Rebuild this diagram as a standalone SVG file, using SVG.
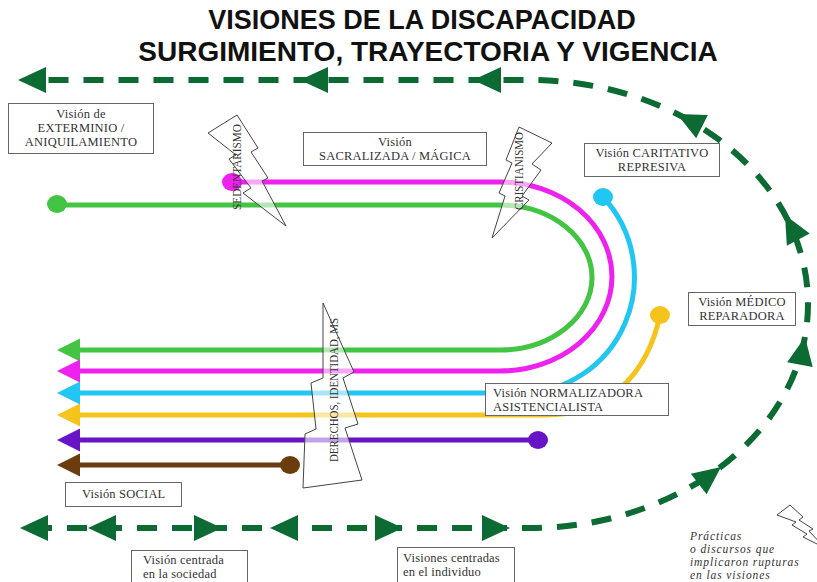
<svg xmlns="http://www.w3.org/2000/svg" width="817" height="582" viewBox="0 0 817 582">
<defs>
<style>
.box{fill:#fff;stroke:#666;stroke-width:1}
.lbl{font-family:"Liberation Serif","Times New Roman",serif;font-size:12.5px;letter-spacing:0.2px;fill:#333}
.mid{text-anchor:middle}
.title{font-family:"Liberation Sans",Arial,sans-serif;font-weight:bold;fill:#111;text-anchor:middle}
.flow{fill:none;stroke:#0b6b33;stroke-width:6;stroke-dasharray:20 15}
.ln{fill:none;stroke-width:5}
.bolt{fill:#fff;fill-opacity:0.6;stroke:#444;stroke-width:1}
.btxt{font-family:"Liberation Serif","Times New Roman",serif;font-size:12px;fill:#333;text-anchor:middle;dominant-baseline:central}
.leg{font-family:"Liberation Serif","Times New Roman",serif;font-size:11.5px;letter-spacing:0.9px;font-style:italic;fill:#333}
</style>
<polygon id="ah" points="0,0 -28,-13 -28,13" fill="#0b6b33"/>
<polygon id="ch" points="0,0 23,-11.5 23,11.5"/>
</defs>
<rect width="817" height="582" fill="#fff"/>

<g id="title">
<text class="title" x="422" y="29" font-size="27">VISIONES DE LA DISCAPACIDAD</text>
<text class="title" x="428" y="60.5" font-size="28">SURGIMIENTO, TRAYECTORIA Y VIGENCIA</text>
</g>

<g id="connectors">
<path class="flow" d="M 32 528 H 530 A 278 224 0 0 0 530 80 H 30"/>
<use href="#ah" transform="translate(18,80) rotate(180)"/>
<use href="#ah" transform="translate(300,80) rotate(180)"/>
<use href="#ah" transform="translate(473,80) rotate(180)"/>
<use href="#ah" transform="translate(677,114) rotate(-153.3)"/>
<use href="#ah" transform="translate(785,215) rotate(-118.3)"/>
<use href="#ah" transform="translate(805,337) rotate(-79.6)"/>
<use href="#ah" transform="translate(721,467) rotate(-37.3)"/>
<use href="#ah" transform="translate(20,528) rotate(180)"/>
<use href="#ah" transform="translate(88,528) rotate(180)"/>
<use href="#ah" transform="translate(222,528)"/>
<use href="#ah" transform="translate(270,528) rotate(180)"/>
<use href="#ah" transform="translate(403,528)"/>
<use href="#ah" transform="translate(510,528)"/>

<g id="line-green">
<path class="ln" stroke="#43c443" d="M 57 205 H 500 A 92 72.5 0 0 1 500 350 H 75"/>
<ellipse cx="57" cy="204" rx="10" ry="9" fill="#43c443"/>
<use href="#ch" x="57" y="350" fill="#43c443"/>
</g>
<g id="line-magenta">
<path class="ln" stroke="#ee22ee" d="M 232 182 H 500 A 112 94.5 0 0 1 500 371 H 75"/>
<ellipse cx="232" cy="182" rx="10" ry="9" fill="#ee22ee"/>
<use href="#ch" x="57" y="371" fill="#ee22ee"/>
</g>
<g id="line-cyan">
<path class="ln" stroke="#22c6f2" d="M 603 197 A 114 116 0 0 1 520 393 H 75"/>
<ellipse cx="603" cy="197" rx="10" ry="9" fill="#22c6f2"/>
<use href="#ch" x="57" y="393" fill="#22c6f2"/>
</g>
<g id="line-yellow">
<path class="ln" stroke="#f4c41c" d="M 660 315 C 648 372 610 415 545 415 H 75"/>
<ellipse cx="660" cy="315" rx="10" ry="9" fill="#f4c41c"/>
<use href="#ch" x="57" y="415" fill="#f4c41c"/>
</g>
<g id="line-purple">
<path class="ln" stroke="#6614c6" d="M 538 440 H 75"/>
<ellipse cx="538" cy="440" rx="10" ry="9" fill="#6614c6"/>
<use href="#ch" x="57" y="440" fill="#6614c6"/>
</g>
<g id="line-brown">
<path class="ln" stroke="#6b3c0e" d="M 290 465 H 75"/>
<ellipse cx="290" cy="465" rx="10" ry="9" fill="#6b3c0e"/>
<use href="#ch" x="57" y="465" fill="#6b3c0e"/>
</g>
</g>

<g id="bolt-sedentarismo">
<polygon class="bolt" points="208,133 237,115 258,148 251,152 268,178 262,181 286,226 243,193 251,188 229,159 236,155"/>
<text class="btxt" textLength="86" lengthAdjust="spacingAndGlyphs" transform="translate(237,167) rotate(-90)">SEDENTARISMO</text>
</g>
<g id="bolt-cristianismo">
<polygon class="bolt" points="519,127 552,143 532,164 541,170 522,196 529,200 492,238 505,196 499,193 512,163 506,160"/>
<text class="btxt" textLength="78" lengthAdjust="spacingAndGlyphs" transform="translate(519,171) rotate(-90)">CRISTIANISMO</text>
</g>
<g id="bolt-derechos">
<polygon class="bolt" points="323,303 354,372 343,378 358,424 345,428 362,480 303,488 305,434 316,429 311,383 323,378"/>
<text class="btxt" textLength="144" lengthAdjust="spacingAndGlyphs" transform="translate(334,390) rotate(-90)">DERECHOS, IDENTIDAD, MS</text>
</g>

<g id="box-exterminio">
<rect class="box" x="8.5" y="103.5" width="145" height="50"/>
<text class="lbl mid" x="81" y="118">Visión de</text>
<text class="lbl mid" x="81" y="132">EXTERMINIO /</text>
<text class="lbl mid" x="81" y="146">ANIQUILAMIENTO</text>
</g>
<g id="box-sacralizada">
<rect class="box" x="303.5" y="132.5" width="183" height="33"/>
<text class="lbl mid" x="395" y="146">Visión</text>
<text class="lbl mid" x="395" y="160">SACRALIZADA / MÁGICA</text>
</g>
<g id="box-caritativo">
<rect class="box" x="584.5" y="143.5" width="135" height="33"/>
<text class="lbl mid" x="652" y="157">Visión CARITATIVO</text>
<text class="lbl mid" x="652" y="171">REPRESIVA</text>
</g>
<g id="box-medico">
<rect class="box" x="688.5" y="292.5" width="107" height="33"/>
<text class="lbl mid" x="742" y="306">Visión MÉDICO</text>
<text class="lbl mid" x="742" y="320">REPARADORA</text>
</g>
<g id="box-normalizadora">
<rect class="box" x="485.5" y="383.5" width="183" height="32"/>
<text class="lbl" x="493" y="397">Visión NORMALIZADORA</text>
<text class="lbl" x="493" y="411">ASISTENCIALISTA</text>
</g>
<g id="box-social">
<rect class="box" x="65.5" y="482.5" width="116" height="24"/>
<text class="lbl" x="82" y="498">Visión SOCIAL</text>
</g>
<g id="box-sociedad">
<rect class="box" x="131.5" y="550.5" width="116" height="40"/>
<text class="lbl" x="143" y="564">Visión centrada</text>
<text class="lbl" x="143" y="578">en la sociedad</text>
</g>
<g id="box-individuo">
<rect class="box" x="397.5" y="547.5" width="117" height="40"/>
<text class="lbl" x="403" y="562">Visiones centradas</text>
<text class="lbl" x="403" y="576">en el individuo</text>
</g>

<g id="legend">
<polygon class="bolt" points="777,515 790,505 803,517 799,520 813,529 809,531 825,548 803,537 807,534 792,525 796,522"/>
<text class="leg" x="690" y="540">Prácticas</text>
<text class="leg" x="690" y="553">o discursos que</text>
<text class="leg" x="690" y="566">implicaron rupturas</text>
<text class="leg" x="690" y="579">en las visiones</text>
</g>
</svg>
